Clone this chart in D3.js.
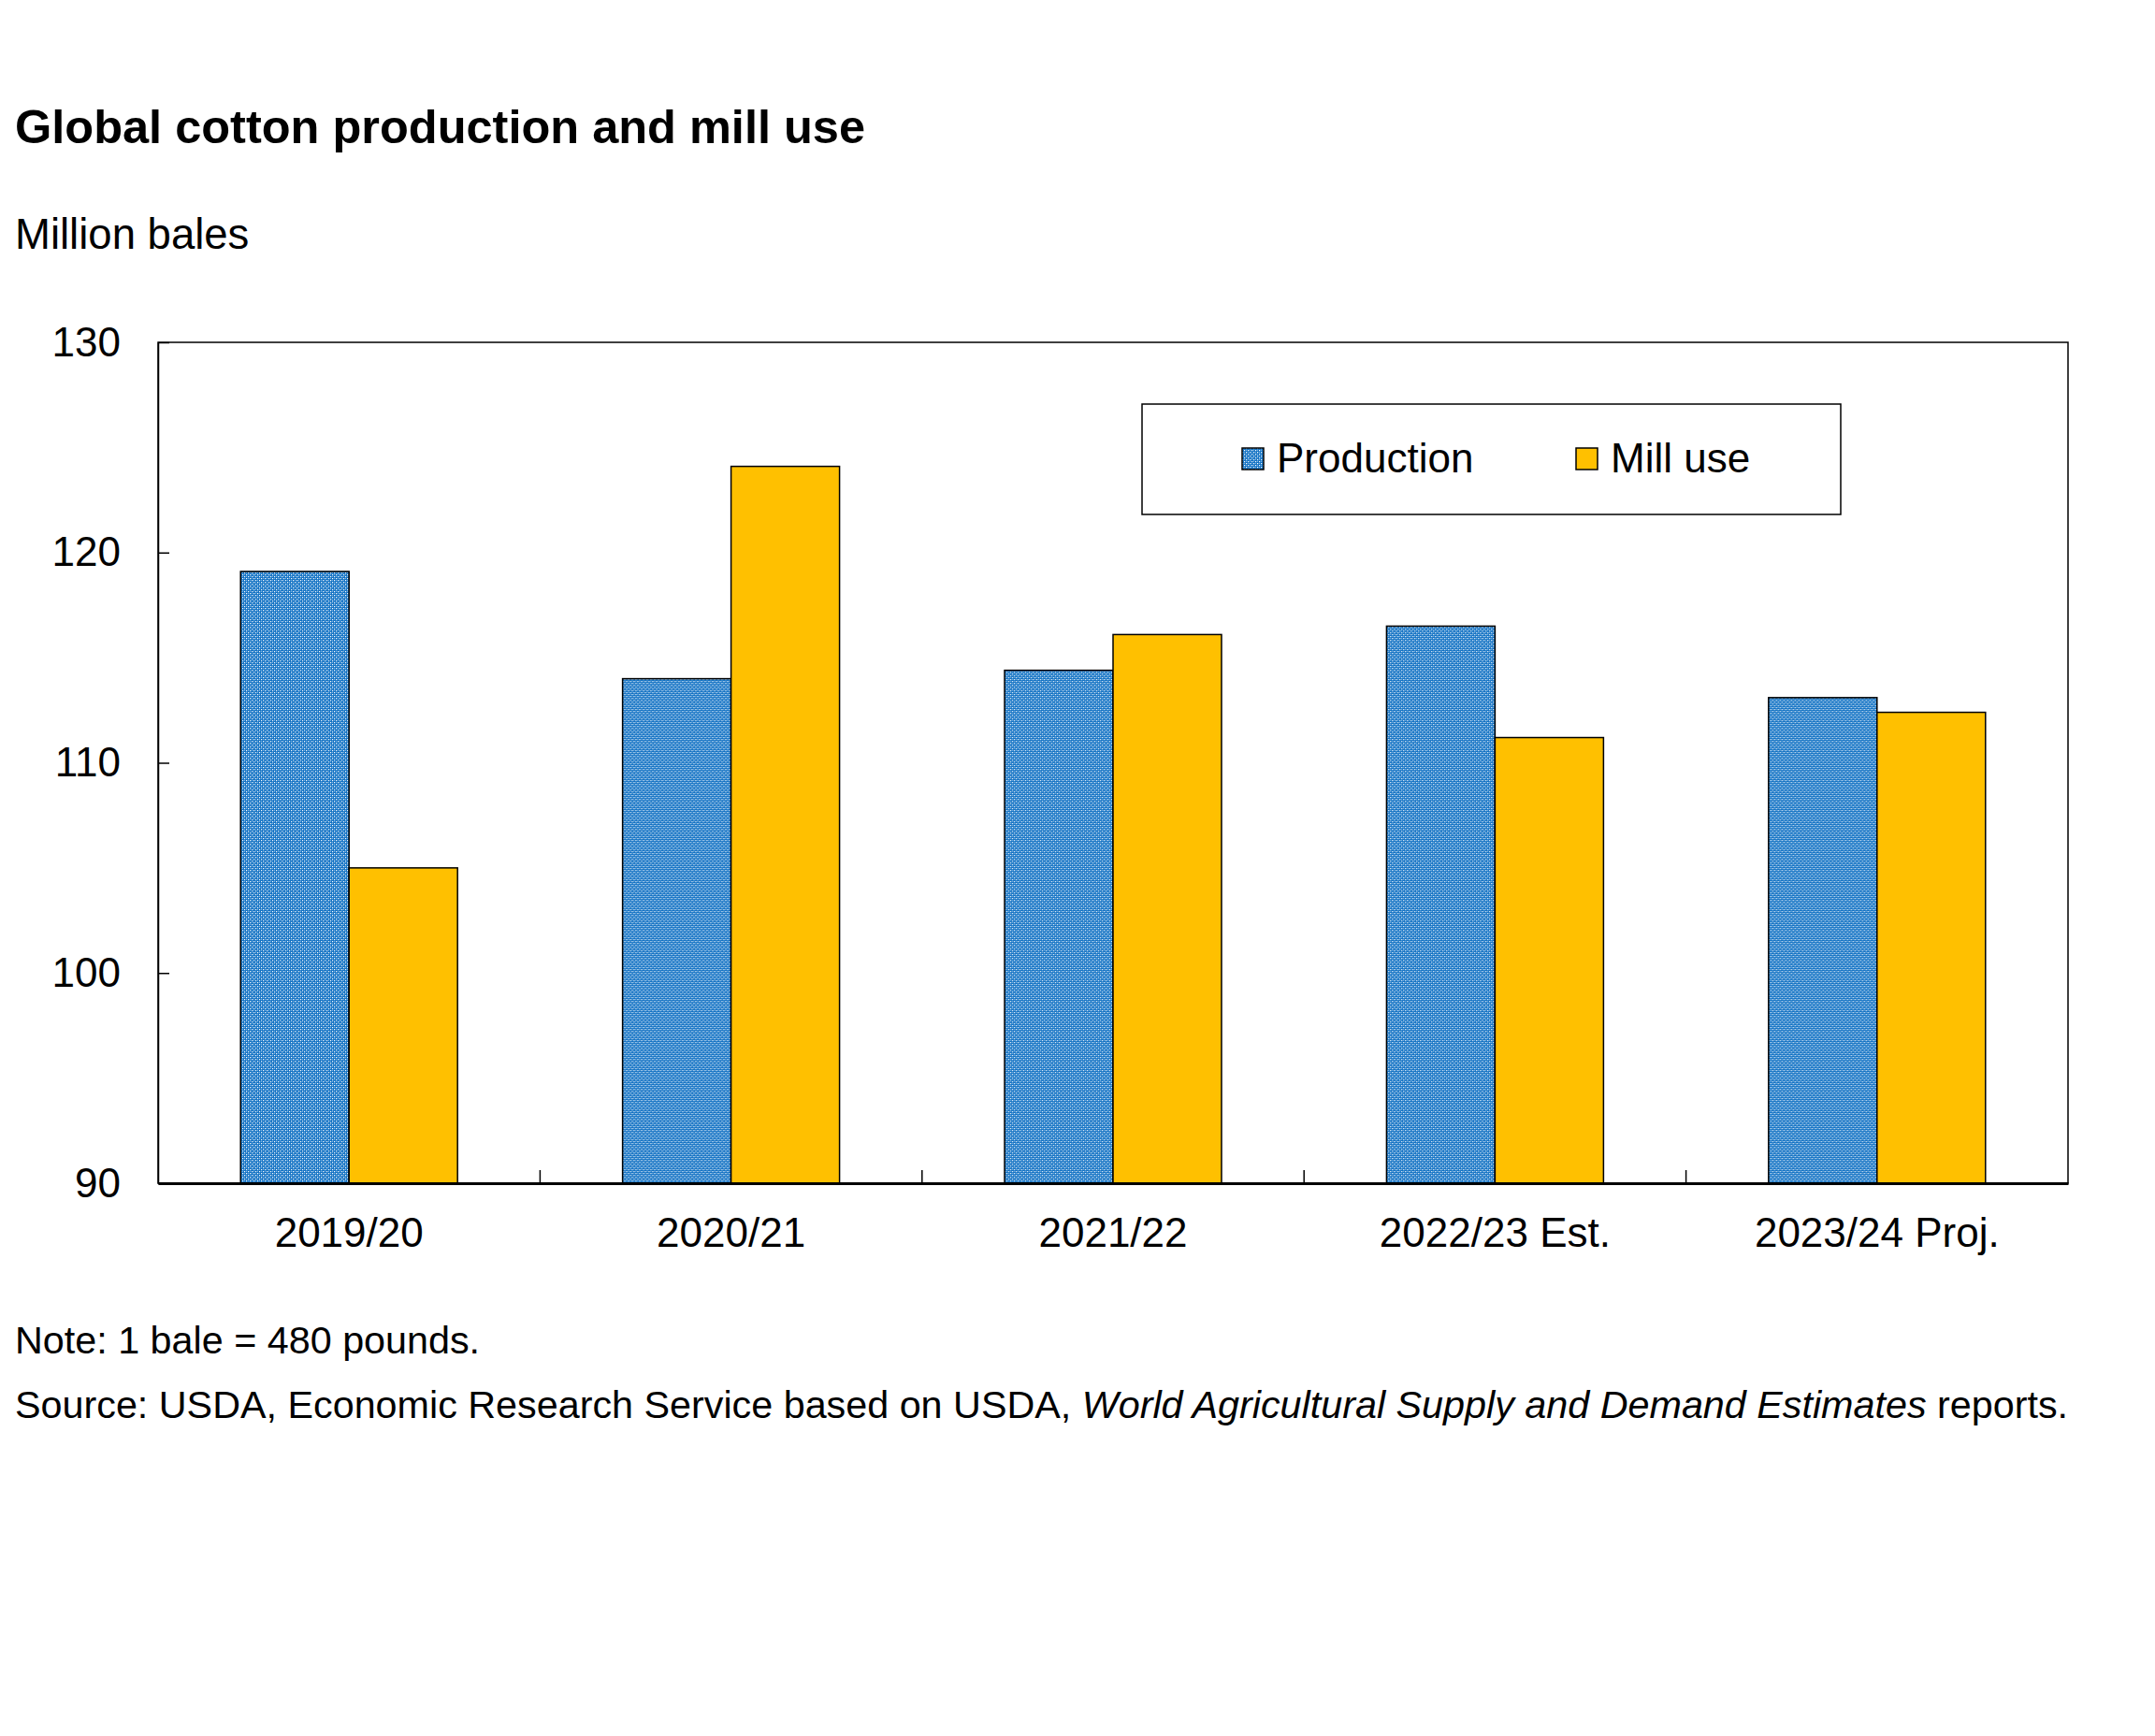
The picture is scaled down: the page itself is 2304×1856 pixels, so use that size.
<!DOCTYPE html>
<html>
<head>
<meta charset="utf-8">
<script src="https://cdn.jsdelivr.net/npm/d3@7"></script>
<style>
  body { margin: 0; background: #fff; }
  text { font-family: "Liberation Sans", Arial, sans-serif; fill: #000; }
</style>
</head>
<body>
<svg id="chart"></svg>
<script>
// data (million bales)
var years = ["2019/20", "2020/21", "2021/22", "2022/23 Est.", "2023/24 Proj."];
var production = [119.1, 114.0, 114.4, 116.5, 113.1];
var millUse = [105.0, 124.1, 116.1, 111.2, 112.4];
var seriesNames = ["Production", "Mill use"];
var yTicks = [90, 100, 110, 120, 130];

var width = 2304,
    height = 1856;

var plot = {left: 169, right: 2211, top: 366, bottom: 1265};

var svg = d3.select("#chart")
    .attr("width", width)
    .attr("height", height);

// pattern for the production bars (blue with white dots)
var defs = svg.append("defs");
var pat = defs.append("pattern")
    .attr("id", "dots")
    .attr("patternUnits", "userSpaceOnUse")
    .attr("width", 4)
    .attr("height", 4);
pat.append("rect").attr("width", 4).attr("height", 4).attr("fill", "#1070c2");
pat.append("rect").attr("x", 0).attr("y", 0).attr("width", 1.2).attr("height", 1.2).attr("fill", "#ffffff");
pat.append("rect").attr("x", 2).attr("y", 2).attr("width", 1.2).attr("height", 1.2).attr("fill", "#ffffff");
pat.append("rect").attr("x", 2).attr("y", 0).attr("width", 1).attr("height", 1).attr("fill", "#7db4e6");
pat.append("rect").attr("x", 0).attr("y", 2).attr("width", 1).attr("height", 1).attr("fill", "#7db4e6");

var fills = ["url(#dots)", "#ffc000"];

var x0 = d3.scaleBand()
    .domain(years)
    .range([plot.left, plot.right])
    .padding(0);

var gap = x0.bandwidth() * 0.216;
var x1 = d3.scaleBand()
    .domain(seriesNames)
    .range([gap, x0.bandwidth() - gap])
    .padding(0);

var y = d3.scaleLinear()
    .domain([90, 130])
    .range([plot.bottom, plot.top]);

// titles
svg.append("text")
    .attr("x", 16)
    .attr("y", 153)
    .style("font-size", "50.5px")
    .style("font-weight", "bold")
    .text("Global cotton production and mill use");

svg.append("text")
    .attr("x", 16)
    .attr("y", 266)
    .style("font-size", "45.5px")
    .text("Million bales");

// bars
var rows = years.map(function (yr, i) {
    return {year: yr, values: [production[i], millUse[i]]};
});

var groups = svg.selectAll("g.grp")
    .data(rows)
    .enter().append("g")
    .attr("class", "grp")
    .attr("transform", function (d) { return "translate(" + x0(d.year) + ",0)"; });

groups.selectAll("rect")
    .data(function (d) { return d.values.map(function (v, j) { return {name: seriesNames[j], value: v, j: j}; }); })
    .enter().append("rect")
    .attr("x", function (d) { return x1(d.name); })
    .attr("y", function (d) { return y(d.value); })
    .attr("width", x1.bandwidth())
    .attr("height", function (d) { return y(90) - y(d.value); })
    .attr("fill", function (d) { return fills[d.j]; })
    .attr("stroke", "#000")
    .attr("stroke-width", 1.5);

// frame
svg.append("rect")
    .attr("x", plot.left)
    .attr("y", plot.top)
    .attr("width", plot.right - plot.left)
    .attr("height", plot.bottom - plot.top)
    .attr("fill", "none")
    .attr("stroke", "#000")
    .attr("stroke-width", 1.5);

// y axis, ticks inside
var yAxis = svg.append("g")
    .attr("transform", "translate(" + plot.left + ",0)")
    .call(d3.axisLeft(y).tickValues(yTicks).tickSizeInner(-12).tickSizeOuter(0).tickPadding(40));
yAxis.select(".domain").attr("stroke", "#000").attr("stroke-width", 1.5);
yAxis.selectAll(".tick line").attr("stroke", "#000").attr("stroke-width", 1.5);
yAxis.selectAll(".tick text")
    .style("font-size", "44px")
    .style("font-family", "'Liberation Sans', Arial, sans-serif")
    .attr("fill", "#000");

// x axis: labels under each band, ticks between bands pointing up
var xAxis = svg.append("g")
    .attr("transform", "translate(0," + plot.bottom + ")")
    .call(d3.axisBottom(x0).tickSize(0).tickPadding(37));
xAxis.select(".domain").attr("stroke", "#000").attr("stroke-width", 3);
xAxis.selectAll(".tick text")
    .style("font-size", "44px")
    .style("font-family", "'Liberation Sans', Arial, sans-serif")
    .attr("fill", "#000");

svg.append("g")
    .selectAll("line")
    .data(years.slice(1))
    .enter().append("line")
    .attr("x1", function (d) { return x0(d); })
    .attr("x2", function (d) { return x0(d); })
    .attr("y1", plot.bottom)
    .attr("y2", plot.bottom - 14)
    .attr("stroke", "#000")
    .attr("stroke-width", 1.5);

// legend
var legend = svg.append("g");
legend.append("rect")
    .attr("x", 1221)
    .attr("y", 432)
    .attr("width", 747)
    .attr("height", 118)
    .attr("fill", "#fff")
    .attr("stroke", "#000")
    .attr("stroke-width", 1.5);

var legendX = [1328, 1685];
var items = legend.selectAll("g.item")
    .data(seriesNames)
    .enter().append("g")
    .attr("class", "item")
    .attr("transform", function (d, i) { return "translate(" + legendX[i] + ",479)"; });
items.append("rect")
    .attr("width", 23)
    .attr("height", 23)
    .attr("fill", function (d, i) { return fills[i]; })
    .attr("stroke", "#000")
    .attr("stroke-width", 1.5);
items.append("text")
    .attr("x", 37)
    .attr("y", 26)
    .style("font-size", "44px")
    .text(function (d) { return d; });

// notes
svg.append("text")
    .attr("x", 16)
    .attr("y", 1447)
    .style("font-size", "41.3px")
    .text("Note: 1 bale = 480 pounds.");

var src = svg.append("text")
    .attr("x", 16)
    .attr("y", 1516)
    .style("font-size", "41.3px");
src.append("tspan").text("Source: USDA, Economic Research Service based on USDA, ");
src.append("tspan").style("font-style", "italic").text("World Agricultural Supply and Demand Estimates");
src.append("tspan").text(" reports.");
</script>
</body>
</html>
